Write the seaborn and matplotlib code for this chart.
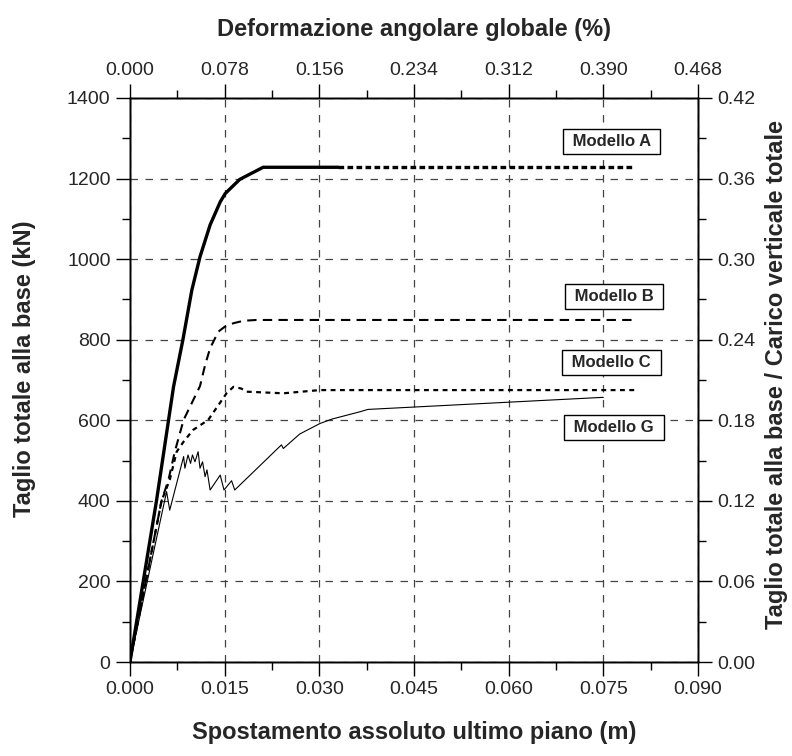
import matplotlib
matplotlib.use("Agg")
import matplotlib.pyplot as plt
import seaborn as sns
import pandas as pd
from matplotlib.ticker import MultipleLocator

# Modello A (solid up to ~0.033 m, then dashed continuation)
a_x = [0.0, 0.0042, 0.0069, 0.0084, 0.0098, 0.0111, 0.0127, 0.0143, 0.0151, 0.0174, 0.0211, 0.033]
a_y = [0, 400, 683, 801, 923, 1006, 1085, 1142, 1163, 1198, 1228, 1228]
a_ext_x = [0.033, 0.080]
a_ext_y = [1228, 1228]

# Modello B
b_x = [0.0, 0.0050, 0.0061, 0.0071, 0.0085, 0.0111, 0.0119, 0.0127, 0.0140, 0.0150, 0.0164, 0.0180, 0.0200, 0.080]
b_y = [0, 400, 452, 522, 601, 685, 737, 779, 820, 832, 841, 847, 849, 849]

# Modello C
c_x = [0.0, 0.0050, 0.0063, 0.0074, 0.0085, 0.0100, 0.0124, 0.0153, 0.0164, 0.0176, 0.0185, 0.0243, 0.0301, 0.080]
c_y = [0, 400, 452, 522, 547, 576, 601, 667, 683, 679, 671, 667, 675, 675]

# Modello G
g_x = [0.0, 0.0058, 0.0063, 0.0085, 0.0087, 0.0092, 0.0096, 0.0099, 0.0103, 0.0108, 0.0111, 0.0115,
       0.0119, 0.0122, 0.0127, 0.0143, 0.0149, 0.0161, 0.0166, 0.0240, 0.0243, 0.0269, 0.0301,
       0.0320, 0.0364, 0.0377, 0.075]
g_y = [0, 423, 377, 510, 481, 514, 493, 514, 497, 522, 481, 497,
       460, 477, 427, 464, 427, 450, 427, 539, 530, 566, 592,
       603, 621, 627, 657]

labels = ["Modello A", "Modello B", "Modello C", "Modello G"]
label_x = [0.0763, 0.0767, 0.0763, 0.0767]
label_y = [1293, 908, 743, 581]

top_ticks = [0.000, 0.078, 0.156, 0.234, 0.312, 0.390, 0.468]
right_ticks = [0.00, 0.06, 0.12, 0.18, 0.24, 0.30, 0.36, 0.42]

sns.set_style("ticks")
plt.rcParams["font.family"] = ["Liberation Sans", "DejaVu Sans"]
plt.rcParams["xtick.labelsize"] = 14
plt.rcParams["ytick.labelsize"] = 14

fig = plt.figure(figsize=(7.92, 7.56), dpi=100)
ax = fig.add_axes([0.1641, 0.1243, 0.7172, 0.7461])

k = dict(ax=ax, color="black", sort=False, estimator=None, legend=False)
sns.lineplot(x=a_x, y=a_y, linewidth=2.4, **k)
sns.lineplot(x=a_ext_x, y=a_ext_y, linewidth=2.4, linestyle=(0, (1.7, 1.0)), **k)
sns.lineplot(x=b_x, y=b_y, linewidth=1.5, linestyle=(0, (4.5, 3.0)), **k)
sns.lineplot(x=c_x, y=c_y, linewidth=1.6, linestyle=(0, (2.2, 2.0)), **k)
sns.lineplot(x=g_x, y=g_y, linewidth=0.8, **k)

ax.set_xlim(0, 0.090)
ax.set_ylim(0, 1400)
ax.xaxis.set_major_locator(MultipleLocator(0.015))
ax.xaxis.set_minor_locator(MultipleLocator(0.0075))
ax.yaxis.set_major_locator(MultipleLocator(200))
ax.yaxis.set_minor_locator(MultipleLocator(100))
ax.set_xticklabels([f"{v:.3f}" for v in ax.get_xticks()])
ax.grid(True, which="major", color="#444444", linestyle=(0, (6, 6)), linewidth=0.9)
ax.set_xlabel("Spostamento assoluto ultimo piano (m)", fontsize=17, fontweight="bold")
ax.set_ylabel("Taglio totale alla base (kN)", fontsize=17, fontweight="bold")
ax.xaxis.set_label_coords(0.5, -0.105)
ax.yaxis.set_label_coords(-0.165, 0.52)

for t, xx, yy in zip(labels, label_x, label_y):
    ax.text(xx, yy, " " + t + " ", ha="center", va="center", fontsize=12, fontweight="bold",
            bbox=dict(boxstyle="square,pad=0.3", facecolor="white", edgecolor="black", linewidth=1))

axt = ax.twiny()
axt.set_xlim(0, 0.468)
axt.set_xticks(top_ticks)
axt.set_xticklabels([f"{v:.3f}" for v in top_ticks])
axt.xaxis.set_minor_locator(MultipleLocator(0.039))
axt.set_xlabel("Deformazione angolare globale (%)", fontsize=17, fontweight="bold")
axt.xaxis.set_label_coords(0.5, 1.11)

axr = ax.twinx()
axr.set_ylim(0, 0.42)
axr.set_yticks(right_ticks)
axr.set_yticklabels([f"{v:.2f}" for v in right_ticks])
axr.yaxis.set_minor_locator(MultipleLocator(0.03))
axr.set_ylabel("Taglio totale alla base / Carico verticale totale", fontsize=17, fontweight="bold")
axr.yaxis.set_label_coords(1.118, 0.51)

for a in (ax, axt, axr):
    a.tick_params(which="major", length=10, width=1, color="black", pad=4)
    a.tick_params(which="minor", length=6, width=1, color="black")
    for s in a.spines.values():
        s.set_color("black")
        s.set_linewidth(1)

fig.savefig("out.png", dpi=100)
